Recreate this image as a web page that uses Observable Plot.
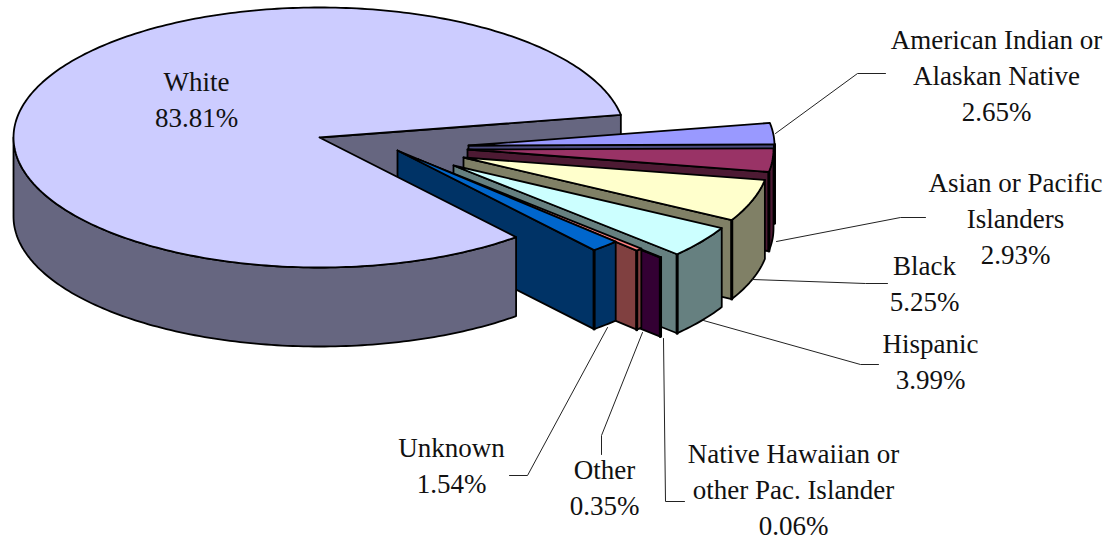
<!DOCTYPE html>
<html>
<head>
<meta charset="utf-8">
<script src="https://cdn.jsdelivr.net/npm/d3@7"></script>
<script src="https://cdn.jsdelivr.net/npm/@observablehq/plot@0.6"></script>
<style>html,body{margin:0;padding:0;background:#fff}svg{display:block}</style>
</head>
<body>
<div id="chart"></div>
<script>
// ---- data ----
const categories = ["American Indian or\nAlaskan Native", "Asian or Pacific\nIslanders", "Black", "Hispanic",
  "Native Hawaiian or\nother Pac. Islander", "Other", "Unknown", "White"];
const shares = [2.65, 2.93, 5.25, 3.99, 0.06, 0.35, 1.54, 83.81];

// ---- styling ----
const topColors  = ["#9999ff", "#993366", "#ffffcc", "#ccffff", "#660066", "#ff8080", "#0066cc", "#ccccff"];
const wallColors = ["#4d4d80", "#4d1a33", "#808066", "#668080", "#330033", "#804040", "#003366", "#666680"];

// ---- layout of the exploded pie (pixels) ----
const radiusX = 306, radiusY = 130, depth = 79, firstAngle = -10;
const apexX = [468, 467, 463, 453, 437, 418, 397, 319];
const apexY = [145, 149, 157, 165, 168, 159, 150, 137];
const labelX = [996, 1015, 924, 930, 793, 604, 451, 196];
const labelY = [73, 216, 281, 359, 487, 485, 463, 97];
const leaderX = [[775, 857, 885], [776, 900, 925], [752, 865, 887], [703, 860, 878], [663, 665, 684], [642, 601, 601], [607, 527, 509]];
const leaderY = [[133, 73, 73], [241, 217, 217], [279, 283, 283], [320, 364, 364], [338, 501, 501], [332, 435, 454], [327, 475, 475]];

const rad = d => d * Math.PI / 180;
const arcs = d3.pie().sort(null).startAngle(rad(firstAngle)).endAngle(rad(firstAngle + 360))(shares);

const rim = (i, t, dz = 0) => ({x: apexX[i] + radiusX * Math.cos(t), y: apexY[i] + radiusY * Math.sin(t) + dz});
const apex = (i, dz = 0) => ({x: apexX[i], y: apexY[i] + dz});
const sweep = (a, b) => d3.range(0, 1.0001, 1 / Math.max(2, Math.ceil((b - a) / rad(1)))).map(f => a + (b - a) * f);
const edge = {stroke: "#000", strokeWidth: 1.8, strokeLinejoin: "round"};
const face = (pts, fill) => Plot.line(pts.concat([pts[0]]), {x: "x", y: "y", fill, ...edge});

function topFace(i) {
  return face([apex(i), ...sweep(arcs[i].startAngle, arcs[i].endAngle).map(t => rim(i, t))], topColors[i]);
}
function sideFace(i) {
  const a = Math.max(arcs[i].startAngle, 0), b = Math.min(arcs[i].endAngle, Math.PI);
  if (b <= a) return null;
  const ts = sweep(a, b);
  return face([...ts.map(t => rim(i, t)), ...ts.slice().reverse().map(t => rim(i, t, depth))], wallColors[i]);
}
function cutFace(i, t) {
  return face([apex(i), rim(i, t), rim(i, t, depth), apex(i, depth)], wallColors[i]);
}
function corner(i, t) {
  return Plot.line([rim(i, t), rim(i, t, depth)], {x: "x", y: "y", stroke: "#000", strokeWidth: 3});
}

const w = arcs.length - 1;
const marks = [cutFace(w, arcs[w].endAngle)];            // back wall of the big slice
for (let i = 0; i < w; ++i) {
  marks.push(sideFace(i), cutFace(i, arcs[i].endAngle), corner(i, arcs[i].endAngle), topFace(i));
}
marks.push(sideFace(w), topFace(w));                     // big slice sits in front of the exploded walls

const leaders = leaderX.flatMap((xs, i) => xs.map((x, j) => ({x, y: leaderY[i][j], i})));
marks.push(Plot.line(leaders, {x: "x", y: "y", z: "i", stroke: "#222", strokeWidth: 1}));

const labels = categories.map((name, i) => ({x: labelX[i], y: labelY[i], text: name + "\n" + shares[i].toFixed(2) + "%"}));
marks.push(Plot.text(labels, {
  x: "x", y: "y", text: "text", fill: "#111", fontFamily: "Liberation Serif", fontSize: 27, lineHeight: 1.333, textAnchor: "middle"
}));

const chart = Plot.plot({
  width: 1112, height: 540, margin: 0,
  x: {type: "identity", axis: null},
  y: {type: "identity", axis: null},
  style: {background: "#fff"},
  marks: marks.filter(Boolean)
});
document.getElementById("chart").append(chart);
</script>
</body>
</html>
